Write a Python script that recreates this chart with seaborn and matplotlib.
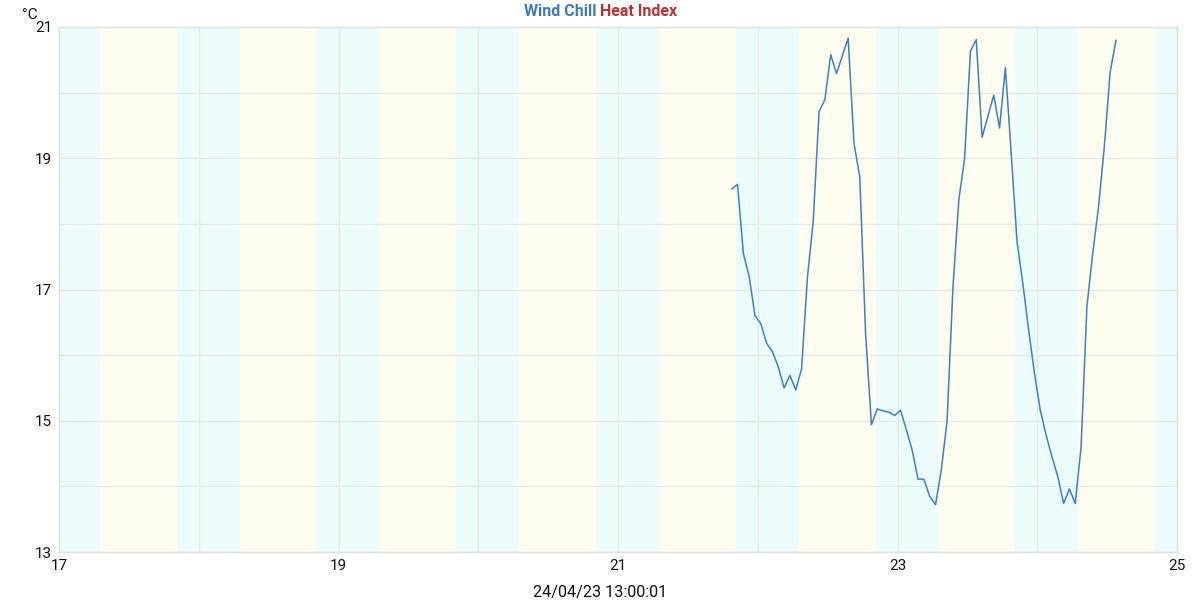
import numpy as np
import pandas as pd
import seaborn as sns
import matplotlib.pyplot as plt

# hourly readings, x in days of the month
start_day = 21.8136
wind_chill = [
    18.53, 18.60, 17.55, 17.20, 16.60, 16.48, 16.18, 16.05, 15.82, 15.50,
    15.69, 15.47, 15.79, 17.18, 18.04, 19.71, 19.89, 20.58, 20.29, 20.56,
    20.83, 19.23, 18.71, 16.31, 14.94, 15.18, 15.15, 15.13, 15.08, 15.16,
    14.86, 14.55, 14.11, 14.11, 13.85, 13.72, 14.25, 15.01, 17.04, 18.36,
    19.00, 20.63, 20.81, 19.32, 19.64, 19.96, 19.46, 20.38, 19.08, 17.73,
    17.09, 16.38, 15.72, 15.16, 14.78, 14.45, 14.15, 13.74, 13.96, 13.74,
    14.60, 16.74, 17.55, 18.26, 19.18, 20.32, 20.80,
]
days = [17, 18, 19, 20, 21, 22, 23, 24]
sunrise = 0.293
sunset = 0.844
x_ticks = [17, 19, 21, 23, 25]
y_ticks = [13, 15, 17, 19, 21]
stamp = "24/04/23 13:00:01"

df = pd.DataFrame({
    "day": start_day + np.arange(len(wind_chill)) / 24,
    "wind_chill": wind_chill,
})

sns.set_style("white")
plt.rcParams["font.family"] = ["Roboto", "DejaVu Sans"]

fig = plt.figure(figsize=(12, 6), dpi=100)
ax = fig.add_axes([59 / 1200, 48 / 600, 1118 / 1200, 525 / 600])

night = "#ecfcfc"
daytime = "#fefcee"
ax.axvspan(17, 25, color=night, lw=0, zorder=0)
for d in days:
    ax.axvspan(d + sunrise, d + sunset, color=daytime, lw=0, zorder=0)

sns.lineplot(data=df, x="day", y="wind_chill", color="#3f7fbd", linewidth=1.1, ax=ax)

ax.set_xlim(17, 25)
ax.set_ylim(13, 21)
ax.set_xticks(range(17, 26))
ax.set_xticklabels([str(v) if v in x_ticks else "" for v in range(17, 26)])
ax.set_yticks(range(13, 22))
ax.set_yticklabels([str(v) if v in y_ticks else "" for v in range(13, 22)])
ax.grid(True, color="#e8e8e8", linewidth=1.0)
for line in ax.get_xgridlines() + ax.get_ygridlines():
    line.set_zorder(0.5)
for s in ax.spines.values():
    s.set_color("#e0e0e0")
    s.set_linewidth(1)
ax.tick_params(length=0, labelsize=11, colors="#111111", pad=5)
ax.set_xlabel("")
ax.set_ylabel("")

fig.text(30 / 1200, 1 - 15 / 600, "°C", fontsize=11, ha="center", va="center", color="#111111")
fig.text(596 / 1200, 1 - 12 / 600, "Wind Chill", fontsize=11.5, fontweight="bold",
         color="#3d7ab5", ha="right", va="center")
fig.text(600 / 1200, 1 - 12 / 600, "Heat Index", fontsize=11.5, fontweight="bold",
         color="#b23535", ha="left", va="center")
fig.text(600 / 1200, 1 - 592 / 600, stamp, fontsize=11.7, ha="center", va="center", color="#111111")

fig.savefig("out.png", dpi=100)
